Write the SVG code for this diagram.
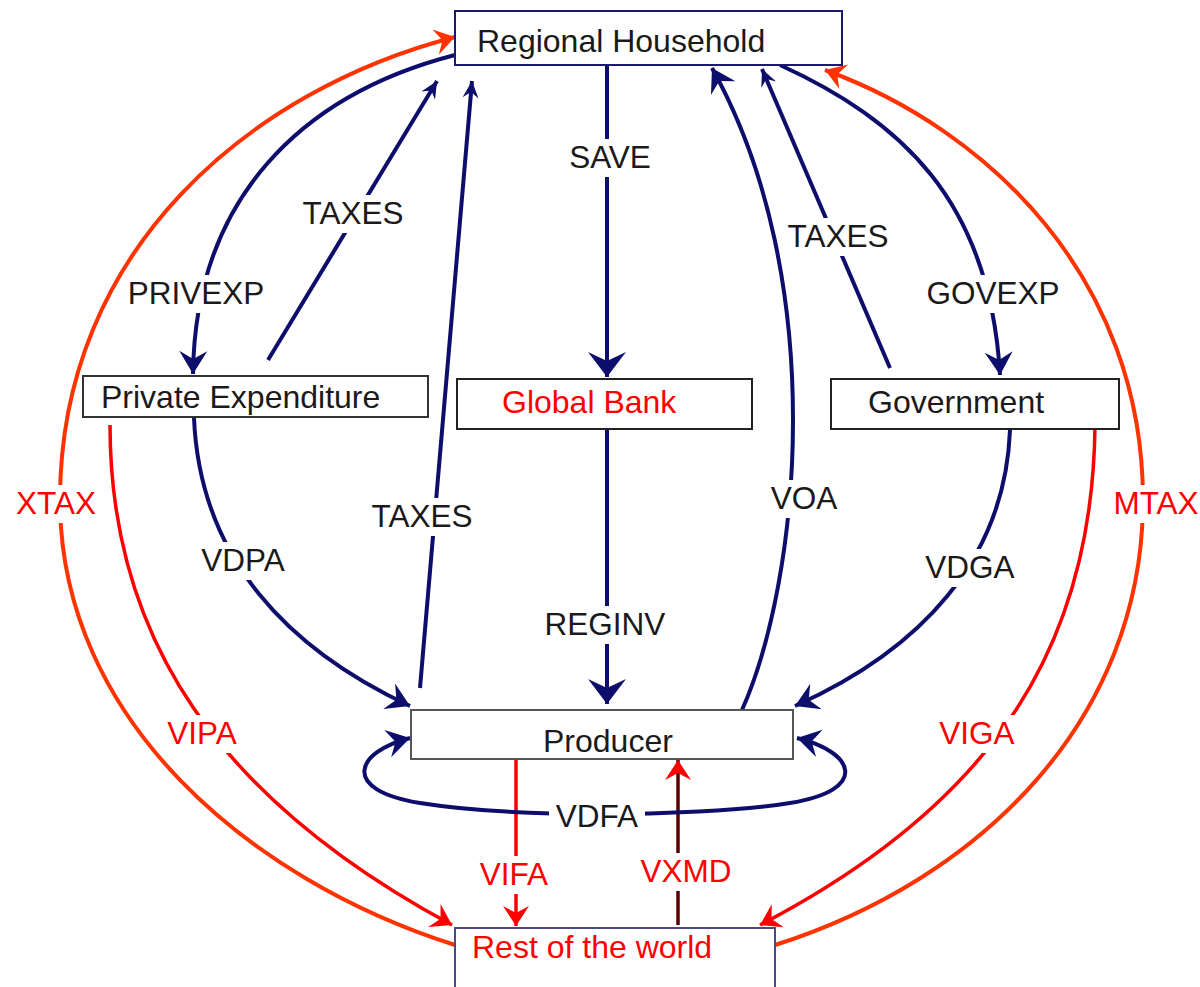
<svg xmlns="http://www.w3.org/2000/svg" width="1200" height="987" viewBox="0 0 1200 987">
<style>
.nb{fill:#fff;stroke-width:2}
.nt{font-family:"Liberation Sans",Arial,sans-serif;font-size:32px;fill:#1a1a1a}
.lt{font-family:"Liberation Sans",Arial,sans-serif;font-size:31.5px;fill:#1a1a1a;text-anchor:middle}
.rt{fill:#ff0000}
.lg{fill:#fff}
.cn{fill:none;stroke:#0d0d6b;stroke-width:4}
.cr{fill:none;stroke:#ff0000;stroke-width:3.5}
.co{fill:none;stroke:#ff3300;stroke-width:4}
</style>
<defs>
<marker id="nBig" viewBox="-28 -20 30 40" refX="0" refY="0" markerWidth="30" markerHeight="40" markerUnits="userSpaceOnUse" orient="auto"><path d="M0,0 L-25,-19 L-16,0 L-25,19 Z" fill="#0d0d6b"/></marker>
<marker id="nMed" viewBox="-26 -16 28 32" refX="0" refY="0" markerWidth="28" markerHeight="32" markerUnits="userSpaceOnUse" orient="auto-start-reverse"><path d="M0,0 L-23,-14 L-15,0 L-23,14 Z" fill="#0d0d6b"/></marker>
<marker id="nSm" viewBox="-18 -10 20 20" refX="0" refY="0" markerWidth="20" markerHeight="20" markerUnits="userSpaceOnUse" orient="auto"><path d="M0,0 L-17,-8 L-11,0 L-17,8 Z" fill="#0d0d6b"/></marker>
<marker id="rMed" viewBox="-22 -15 24 30" refX="0" refY="0" markerWidth="24" markerHeight="30" markerUnits="userSpaceOnUse" orient="auto"><path d="M0,0 L-20,-13 L-13,0 L-20,13 Z" fill="#ff0000"/></marker>
<marker id="oMed" viewBox="-22 -15 24 30" refX="0" refY="0" markerWidth="24" markerHeight="30" markerUnits="userSpaceOnUse" orient="auto"><path d="M0,0 L-20,-13 L-13,0 L-20,13 Z" fill="#ff3300"/></marker>
</defs>

<g id="connectors">
<path class="co" d="M455,945 C250,880 60,720 60,500 C60,250 250,90 455,37" marker-end="url(#oMed)"/>
<path class="co" d="M775,945 C980,880 1143,720 1143,500 C1143,280 990,130 825,70" marker-end="url(#oMed)"/>
<path class="cr" d="M110,425 C110,640 220,800 452,925" marker-end="url(#rMed)"/>
<path class="cr" d="M1095,425 C1093,640 1000,800 760,925" marker-end="url(#rMed)"/>
<path class="cr" d="M516,760 L516,926" marker-end="url(#rMed)"/>
<path d="M678,925 L678,760" fill="none" stroke="#5a0000" stroke-width="3.5" marker-end="url(#rMed)"/>
<path class="cn" d="M455,55 C300,95 195,200 193,374" marker-end="url(#nMed)"/>
<path class="cn" d="M268,360 L437,81" marker-end="url(#nSm)"/>
<path class="cn" d="M420,688 L472,81" marker-end="url(#nSm)"/>
<path class="cn" d="M607,65 L607,377" marker-end="url(#nBig)"/>
<path class="cn" d="M607,430 L607,704" marker-end="url(#nBig)"/>
<path class="cn" d="M742,710 C800,580 830,280 712,68" marker-end="url(#nMed)"/>
<path class="cn" d="M890,368 L762,69" marker-end="url(#nSm)"/>
<path class="cn" d="M780,65 C900,120 990,200 1000,375" marker-end="url(#nMed)"/>
<path class="cn" d="M194,418 C200,560 290,650 410,706" marker-end="url(#nMed)"/>
<path class="cn" d="M1010,430 C1005,560 920,650 795,706" marker-end="url(#nMed)"/>
<path class="cn" d="M410,738 C355,752 340,790 420,803 C470,811 540,814 600,814 C660,814 740,811 790,803 C870,790 855,752 797,738" marker-start="url(#nMed)" marker-end="url(#nMed)"/>
</g>

<g id="labels">
<rect class="lg" x="562" y="139" width="96" height="38"/><text class="lt" x="610" y="168">SAVE</text>
<rect class="lg" x="295" y="195" width="116" height="38"/><text class="lt" x="353" y="224">TAXES</text>
<rect class="lg" x="126" y="275" width="143" height="38"/><text class="lt" x="196" y="304">PRIVEXP</text>
<rect class="lg" x="780" y="218" width="116" height="38"/><text class="lt" x="838" y="247">TAXES</text>
<rect class="lg" x="910" y="275" width="166" height="38"/><text class="lt" x="993" y="304">GOVEXP</text>
<rect class="lg" x="364" y="498" width="116" height="38"/><text class="lt" x="422" y="527">TAXES</text>
<rect class="lg" x="764" y="480" width="80" height="38"/><text class="lt" x="804" y="509">VOA</text>
<rect class="lg" x="193" y="542" width="100" height="38"/><text class="lt" x="243" y="571">VDPA</text>
<rect class="lg" x="917" y="549" width="106" height="38"/><text class="lt" x="970" y="578">VDGA</text>
<rect class="lg" x="535" y="606" width="140" height="38"/><text class="lt" x="605" y="635">REGINV</text>
<rect class="lg" x="8" y="485" width="96" height="38"/><text class="lt rt" x="56" y="514">XTAX</text>
<rect class="lg" x="1107" y="485" width="98" height="38"/><text class="lt rt" x="1156" y="514">MTAX</text>
<rect class="lg" x="160" y="715" width="84" height="38"/><text class="lt rt" x="202" y="744">VIPA</text>
<rect class="lg" x="932" y="715" width="90" height="38"/><text class="lt rt" x="977" y="744">VIGA</text>
<rect class="lg" x="549" y="798" width="96" height="38"/><text class="lt" x="597" y="827">VDFA</text>
<rect class="lg" x="472" y="856" width="84" height="38"/><text class="lt rt" x="514" y="885">VIFA</text>
<rect class="lg" x="633" y="853" width="106" height="38"/><text class="lt rt" x="686" y="882">VXMD</text>
</g>

<g id="regional-household">
<rect class="nb" x="455" y="11" width="387" height="54" stroke="#1a1a6e"/>
<text class="nt" x="477" y="52">Regional Household</text>
</g>
<g id="private-expenditure">
<rect class="nb" x="83" y="376" width="345" height="41" stroke="#333"/>
<text class="nt" x="101" y="408">Private Expenditure</text>
</g>
<g id="global-bank">
<rect class="nb" x="457" y="379" width="295" height="50" stroke="#222"/>
<text class="nt rt" x="502" y="413">Global Bank</text>
</g>
<g id="government">
<rect class="nb" x="831" y="379" width="288" height="50" stroke="#222"/>
<text class="nt" x="868" y="413">Government</text>
</g>
<g id="producer">
<rect class="nb" x="411" y="710" width="382" height="49" stroke="#555"/>
<text class="nt" x="543" y="752">Producer</text>
</g>
<g id="rest-of-world">
<rect class="nb" x="455" y="928" width="320" height="70" stroke="#4a4a80"/>
<text class="nt rt" x="472" y="958">Rest of the world</text>
</g>
</svg>
